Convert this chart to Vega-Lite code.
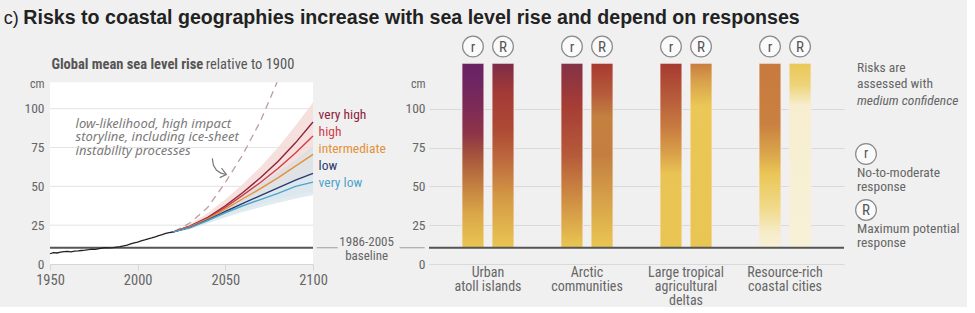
{
  "$schema": "https://vega.github.io/schema/vega-lite/v6.json",
  "background": "#f0f0f0",
  "padding": {"left": 3, "top": 7, "right": 0, "bottom": 0},
  "autosize": {"type": "pad"},
  "config": {
    "view": {"stroke": null},
    "axis": {"labelFont": "Noto Sans Condensed, Roboto Condensed, Liberation Sans Narrow, Roboto, sans-serif"},
    "text": {"font": "Noto Sans Condensed, Roboto Condensed, Liberation Sans Narrow, Roboto, sans-serif"}
  },
  "datasets": {
    "observed": [
      {"year": 1950, "cm": 6.6}, {"year": 1952, "cm": 7.3}, {"year": 1954, "cm": 7.1}, {"year": 1956, "cm": 7.6},
      {"year": 1958, "cm": 8.0}, {"year": 1960, "cm": 8.1}, {"year": 1962, "cm": 7.8}, {"year": 1964, "cm": 8.3},
      {"year": 1966, "cm": 8.4}, {"year": 1968, "cm": 8.7}, {"year": 1970, "cm": 8.9}, {"year": 1972, "cm": 9.2},
      {"year": 1974, "cm": 9.6}, {"year": 1976, "cm": 9.4}, {"year": 1978, "cm": 9.9}, {"year": 1980, "cm": 10.3},
      {"year": 1982, "cm": 10.5}, {"year": 1984, "cm": 10.4}, {"year": 1986, "cm": 10.6}, {"year": 1988, "cm": 10.9},
      {"year": 1990, "cm": 11.2}, {"year": 1992, "cm": 11.7}, {"year": 1994, "cm": 12.2}, {"year": 1996, "cm": 12.9},
      {"year": 1998, "cm": 13.6}, {"year": 2000, "cm": 14.1}, {"year": 2002, "cm": 14.9}, {"year": 2004, "cm": 15.5},
      {"year": 2006, "cm": 16.2}, {"year": 2008, "cm": 16.8}, {"year": 2010, "cm": 17.5}, {"year": 2012, "cm": 18.3},
      {"year": 2014, "cm": 18.9}, {"year": 2016, "cm": 19.7}, {"year": 2018, "cm": 20.2}, {"year": 2020, "cm": 20.6}
    ],
    "projections": [
      {"year": 2020, "very high": 20.5, "high": 20.5, "intermediate": 20.5, "low": 20.5, "very low": 20.5},
      {"year": 2030, "very high": 24.5, "high": 24.3, "intermediate": 24.0, "low": 23.6, "very low": 23.4},
      {"year": 2040, "very high": 30.0, "high": 29.5, "intermediate": 29.0, "low": 28.4, "very low": 28.0},
      {"year": 2050, "very high": 37.5, "high": 36.5, "intermediate": 35.3, "low": 33.8, "very low": 33.0},
      {"year": 2060, "very high": 46.0, "high": 44.3, "intermediate": 42.0, "low": 39.0, "very low": 37.5},
      {"year": 2070, "very high": 55.5, "high": 52.5, "intermediate": 48.5, "low": 44.0, "very low": 41.5},
      {"year": 2080, "very high": 66.0, "high": 61.5, "intermediate": 55.5, "low": 49.0, "very low": 45.5},
      {"year": 2090, "very high": 78.0, "high": 71.5, "intermediate": 63.0, "low": 54.0, "very low": 50.0},
      {"year": 2100, "very high": 91.4, "high": 82.4, "intermediate": 70.6, "low": 58.3, "very low": 52.7}
    ],
    "ranges": [
      {"year": 2020, "band": "very high", "lo": 20.5, "hi": 20.5},
      {"year": 2030, "band": "very high", "lo": 23.0, "hi": 25.8},
      {"year": 2040, "band": "very high", "lo": 27.8, "hi": 32.8},
      {"year": 2050, "band": "very high", "lo": 33.5, "hi": 41.5},
      {"year": 2060, "band": "very high", "lo": 40.0, "hi": 51.5},
      {"year": 2070, "band": "very high", "lo": 47.0, "hi": 62.5},
      {"year": 2080, "band": "very high", "lo": 55.0, "hi": 75.0},
      {"year": 2090, "band": "very high", "lo": 64.0, "hi": 89.0},
      {"year": 2100, "band": "very high", "lo": 74.0, "hi": 104.0},
      {"year": 2020, "band": "low", "lo": 20.5, "hi": 20.5},
      {"year": 2030, "band": "low", "lo": 22.6, "hi": 24.6},
      {"year": 2040, "band": "low", "lo": 26.6, "hi": 30.6},
      {"year": 2050, "band": "low", "lo": 30.8, "hi": 37.2},
      {"year": 2060, "band": "low", "lo": 34.8, "hi": 44.2},
      {"year": 2070, "band": "low", "lo": 38.5, "hi": 51.5},
      {"year": 2080, "band": "low", "lo": 41.8, "hi": 59.0},
      {"year": 2090, "band": "low", "lo": 44.3, "hi": 67.0},
      {"year": 2100, "band": "low", "lo": 46.5, "hi": 75.5},
      {"year": 2020, "band": "very low", "lo": 20.5, "hi": 20.5},
      {"year": 2030, "band": "very low", "lo": 22.5, "hi": 24.3},
      {"year": 2040, "band": "very low", "lo": 26.3, "hi": 29.8},
      {"year": 2050, "band": "very low", "lo": 30.0, "hi": 35.3},
      {"year": 2060, "band": "very low", "lo": 33.5, "hi": 40.0},
      {"year": 2070, "band": "very low", "lo": 36.5, "hi": 44.5},
      {"year": 2080, "band": "very low", "lo": 39.5, "hi": 49.0},
      {"year": 2090, "band": "very low", "lo": 42.0, "hi": 53.5},
      {"year": 2100, "band": "very low", "lo": 44.5, "hi": 58.0}
    ],
    "storyline": [
      {"year": 2021, "cm": 21.0}, {"year": 2030, "cm": 26.5}, {"year": 2040, "cm": 36.5},
      {"year": 2050, "cm": 52.5}, {"year": 2060, "cm": 70.5}, {"year": 2070, "cm": 92.0}, {"year": 2079.5, "cm": 117.0}
    ],
    "arrow": [
      {"part": "shaft", "k": 1, "year": 2042.6, "cm": 68.0},
      {"part": "shaft", "k": 2, "year": 2043.2, "cm": 63.5},
      {"part": "shaft", "k": 3, "year": 2045.0, "cm": 60.3},
      {"part": "shaft", "k": 4, "year": 2047.5, "cm": 58.5},
      {"part": "shaft", "k": 5, "year": 2050.6, "cm": 57.6},
      {"part": "head", "k": 1, "year": 2047.8, "cm": 61.8},
      {"part": "head", "k": 2, "year": 2050.6, "cm": 57.6},
      {"part": "head", "k": 3, "year": 2046.8, "cm": 55.6}
    ],
    "scenarioLabels": [
      {"scenario": "very high", "at": 96},
      {"scenario": "high", "at": 85},
      {"scenario": "intermediate", "at": 74},
      {"scenario": "low", "at": 63},
      {"scenario": "very low", "at": 52}
    ],
    "risk": [
      {"site": "Urban atoll islands", "response": "r", "from": 10.5, "to": 129.2},
      {"site": "Urban atoll islands", "response": "R", "from": 10.5, "to": 129.2},
      {"site": "Arctic communities", "response": "r", "from": 10.5, "to": 129.2},
      {"site": "Arctic communities", "response": "R", "from": 10.5, "to": 129.2},
      {"site": "Large tropical agricultural deltas", "response": "r", "from": 10.5, "to": 129.2},
      {"site": "Large tropical agricultural deltas", "response": "R", "from": 10.5, "to": 129.2},
      {"site": "Resource-rich coastal cities", "response": "r", "from": 10.5, "to": 129.2},
      {"site": "Resource-rich coastal cities", "response": "R", "from": 10.5, "to": 129.2}
    ]
  },
  "spacing": 116,
  "bounds": "flush",
  "resolve": {"scale": {"x": "independent", "y": "independent"}},
  "hconcat": [
    {
      "width": 263,
      "height": 233,
      "layer": [
        {
          "data": {"values": [{}]},
          "mark": {"type": "rect", "fill": "#ffffff"},
          "encoding": {
            "x": {"datum": 1950, "type": "quantitative", "title": null,
                  "scale": {"domain": [1950, 2100], "nice": false, "zero": false},
                  "axis": {"title": null, "values": [1950, 2000, 2050, 2100], "format": "d", "grid": false, "labelFlush": false,
                           "labelFontSize": 14.5, "labelColor": "#666666", "labelPadding": 3,
                           "domainColor": "#d6d6d6", "tickColor": "#d6d6d6", "tickSize": 6}},
            "x2": {"datum": 2100},
            "y": {"datum": 0, "type": "quantitative", "title": null,
                  "scale": {"domain": [0, 150], "nice": false},
                  "axis": {"title": null, "values": [0, 25, 50, 75, 100, 116], "grid": false, "domain": false, "ticks": false,
                           "labelExpr": "datum.value > 110 ? 'cm' : datum.label",
                           "labelFontSize": {"condition": {"test": "datum.value > 110", "value": 12}, "value": 13.5},
                           "labelColor": "#666666", "labelPadding": 6}},
            "y2": {"datum": 117}
          }
        },
        {
          "data": {"values": [{"tick": 25}, {"tick": 50}, {"tick": 75}, {"tick": 100}]},
          "mark": {"type": "rule", "color": "#e3e3e3", "strokeWidth": 1},
          "encoding": {
            "y": {"field": "tick", "type": "quantitative"},
            "x": {"datum": 1950},
            "x2": {"datum": 2100}
          }
        },
        {
          "data": {"name": "ranges"},
          "mark": {"type": "area", "opacity": 0.85},
          "encoding": {
            "x": {"field": "year", "type": "quantitative"},
            "y": {"field": "lo", "type": "quantitative"},
            "y2": {"field": "hi"},
            "fill": {"field": "band", "type": "nominal", "legend": null,
                     "scale": {"domain": ["very high", "low", "very low"], "range": ["#f3dad8", "#dadee2", "#dbe9ef"]}}
          }
        },
        {
          "data": {"values": [{}]},
          "mark": {"type": "rule", "color": "#555555", "strokeWidth": 2},
          "encoding": {"y": {"datum": 10.5}, "x": {"datum": 1950}, "x2": {"datum": 2100}}
        },
        {
          "data": {"name": "storyline"},
          "mark": {"type": "line", "color": "#b99ea5", "strokeWidth": 1.3, "strokeDash": [7, 5]},
          "encoding": {
            "x": {"field": "year", "type": "quantitative"},
            "y": {"field": "cm", "type": "quantitative"}
          }
        },
        {
          "data": {"name": "projections"},
          "transform": [{"fold": ["very high", "high", "intermediate", "low", "very low"], "as": ["scenario", "cm"]}],
          "mark": {"type": "line", "strokeWidth": 1.4},
          "encoding": {
            "x": {"field": "year", "type": "quantitative"},
            "y": {"field": "cm", "type": "quantitative"},
            "color": {"field": "scenario", "type": "nominal", "legend": null,
                      "scale": {"domain": ["very high", "high", "intermediate", "low", "very low"],
                                "range": ["#8e2239", "#d23c48", "#e4913a", "#2b3a6e", "#4ea3cb"]}}
          }
        },
        {
          "data": {"name": "observed"},
          "mark": {"type": "line", "color": "#222222", "strokeWidth": 1.3},
          "encoding": {
            "x": {"field": "year", "type": "quantitative"},
            "y": {"field": "cm", "type": "quantitative"}
          }
        },
        {
          "data": {"name": "scenarioLabels"},
          "mark": {"type": "text", "align": "left", "baseline": "middle", "fontSize": 13.5},
          "encoding": {
            "x": {"datum": 2103.2},
            "y": {"field": "at", "type": "quantitative"},
            "text": {"field": "scenario"},
            "color": {"field": "scenario", "type": "nominal", "legend": null}
          }
        },
        {
          "data": {"values": [{}]},
          "mark": {"type": "text", "align": "left", "baseline": "top", "fontSize": 13, "lineHeight": 13.7,
                   "font": "Noto Sans, DejaVu Sans, sans-serif", "fontStyle": "italic", "color": "#7a7a7a"},
          "encoding": {
            "x": {"datum": 1964.6},
            "y": {"datum": 94.2},
            "text": {"value": ["low-likelihood, high impact", "storyline, including ice-sheet", "instability processes"]}
          }
        },
        {
          "data": {"name": "arrow"},
          "mark": {"type": "line", "color": "#777777", "strokeWidth": 1.2},
          "encoding": {
            "x": {"field": "year", "type": "quantitative"},
            "y": {"field": "cm", "type": "quantitative"},
            "detail": {"field": "part"},
            "order": {"field": "k"}
          }
        },
        {
          "data": {"values": [{}]},
          "mark": {"type": "rule", "color": "#b0b0b0", "strokeWidth": 1.3},
          "encoding": {"y": {"datum": 10.5}, "x": {"datum": 2102.1}, "x2": {"datum": 2114.1}}
        },
        {
          "data": {"values": [{}]},
          "mark": {"type": "rule", "color": "#b0b0b0", "strokeWidth": 1.3},
          "encoding": {"y": {"datum": 10.5}, "x": {"datum": 2149.4}, "x2": {"datum": 2163.7}}
        },
        {
          "data": {"values": [{}]},
          "mark": {"type": "text", "align": "center", "baseline": "top", "fontSize": 13, "lineHeight": 14, "color": "#666666"},
          "encoding": {
            "x": {"datum": 2130.6},
            "y": {"datum": 18.3},
            "text": {"value": ["1986-2005", "baseline"]}
          }
        },
        {
          "data": {"values": [{}]},
          "mark": {"type": "text", "align": "left", "baseline": "alphabetic", "fontSize": 14.5, "fontWeight": "bold", "color": "#555555"},
          "encoding": {
            "x": {"datum": 1950.8},
            "y": {"datum": 125.5},
            "text": {"value": "Global mean sea level rise"}
          }
        },
        {
          "data": {"values": [{}]},
          "mark": {"type": "text", "align": "left", "baseline": "alphabetic", "fontSize": 14.5, "color": "#555555"},
          "encoding": {
            "x": {"datum": 2038.8},
            "y": {"datum": 125.5},
            "text": {"value": "relative to 1900"}
          }
        },
        {
          "data": {"values": [{}]},
          "mark": {"type": "text", "align": "left", "baseline": "alphabetic", "fontSize": 18,
                   "font": "Liberation Sans, Arial, sans-serif", "color": "#222222"},
          "encoding": {
            "x": {"datum": 1923.6},
            "y": {"datum": 154.7},
            "text": {"value": "c)"}
          }
        },
        {
          "data": {"values": [{}]},
          "mark": {"type": "text", "align": "left", "baseline": "alphabetic", "fontSize": 19.6, "fontWeight": "bold",
                   "font": "Liberation Sans, Arial, sans-serif", "color": "#222222"},
          "encoding": {
            "x": {"datum": 1934.8},
            "y": {"datum": 154.7},
            "text": {"value": "Risks to coastal geographies increase with sea level rise and depend on responses"}
          }
        }
      ]
    },
    {
      "spacing": 13,
      "bounds": "flush",
      "resolve": {"scale": {"x": "independent", "y": "independent"}},
      "hconcat": [
        {
          "width": 415,
          "height": 233,
          "layer": [
            {
              "data": {"name": "risk"},
              "mark": {"type": "bar", "stroke": "#f7ecea", "strokeWidth": 0.8},
              "encoding": {
                "x": {"field": "site", "type": "nominal", "title": null,
                      "scale": {"domain": ["Urban atoll islands", "Arctic communities", "Large tropical agricultural deltas", "Resource-rich coastal cities"],
                                "paddingInner": 0.4747, "paddingOuter": 0.333},
                      "axis": {"title": null, "domain": false, "ticks": false, "labelAngle": 0,
                               "labelExpr": "datum.label == 'Urban atoll islands' ? ['Urban', 'atoll islands'] : datum.label == 'Arctic communities' ? ['Arctic', 'communities'] : datum.label == 'Large tropical agricultural deltas' ? ['Large tropical', 'agricultural', 'deltas'] : ['Resource-rich', 'coastal cities']",
                               "labelFontSize": 14, "labelLineHeight": 14, "labelColor": "#666666", "labelPadding": 1}},
                "xOffset": {"field": "response", "type": "nominal",
                            "scale": {"domain": ["r", "R"], "paddingInner": 0.27, "paddingOuter": 0}},
                "y": {"field": "from", "type": "quantitative", "title": null,
                      "scale": {"domain": [0, 150], "nice": false},
                      "axis": {"title": null, "values": [0, 25, 50, 75, 100, 116], "domain": false, "ticks": false,
                               "grid": true, "gridColor": "#d9d9d9",
                               "gridOpacity": {"condition": {"test": "datum.value > 110", "value": 0}, "value": 1},
                               "labelExpr": "datum.value > 110 ? 'cm' : datum.label",
                               "labelFontSize": {"condition": {"test": "datum.value > 110", "value": 12}, "value": 13.5},
                               "labelColor": "#666666", "labelPadding": 4}},
                "y2": {"field": "to"},
                "fill": {
                  "condition": [
                    {"test": "datum.site === 'Urban atoll islands' && datum.response === 'r'",
                     "value": {"gradient": "linear", "x1": 0, "y1": 1, "x2": 0, "y2": 0,
                               "stops": [{"offset": 0, "color": "#e9c653"}, {"offset": 0.19, "color": "#d9a548"},
                                         {"offset": 0.35, "color": "#c07c3f"}, {"offset": 0.5, "color": "#a6543d"},
                                         {"offset": 0.62, "color": "#8e3448"}, {"offset": 0.77, "color": "#7c2b57"},
                                         {"offset": 0.9, "color": "#6e2563"}, {"offset": 1, "color": "#6b2262"}]}},
                    {"test": "datum.site === 'Urban atoll islands' && datum.response === 'R'",
                     "value": {"gradient": "linear", "x1": 0, "y1": 1, "x2": 0, "y2": 0,
                               "stops": [{"offset": 0, "color": "#e9c653"}, {"offset": 0.28, "color": "#d39844"},
                                         {"offset": 0.46, "color": "#bf6d3e"}, {"offset": 0.64, "color": "#ad4a35"},
                                         {"offset": 0.84, "color": "#a33a36"}, {"offset": 1, "color": "#7e2c48"}]}},
                    {"test": "datum.site === 'Arctic communities' && datum.response === 'r'",
                     "value": {"gradient": "linear", "x1": 0, "y1": 1, "x2": 0, "y2": 0,
                               "stops": [{"offset": 0, "color": "#e9c653"}, {"offset": 0.28, "color": "#cd8a42"},
                                         {"offset": 0.5, "color": "#b65a3a"}, {"offset": 0.77, "color": "#a63d35"},
                                         {"offset": 0.92, "color": "#8f3540"}, {"offset": 1, "color": "#843247"}]}},
                    {"test": "datum.site === 'Arctic communities' && datum.response === 'R'",
                     "value": {"gradient": "linear", "x1": 0, "y1": 1, "x2": 0, "y2": 0,
                               "stops": [{"offset": 0, "color": "#e9c653"}, {"offset": 0.28, "color": "#d49e48"},
                                         {"offset": 0.5, "color": "#c47f40"}, {"offset": 0.71, "color": "#c4803f"},
                                         {"offset": 0.84, "color": "#b45a3b"}, {"offset": 1, "color": "#a8392f"}]}},
                    {"test": "datum.site === 'Large tropical agricultural deltas' && datum.response === 'r'",
                     "value": {"gradient": "linear", "x1": 0, "y1": 1, "x2": 0, "y2": 0,
                               "stops": [{"offset": 0, "color": "#e9c653"}, {"offset": 0.4, "color": "#e9c454"},
                                         {"offset": 0.5, "color": "#dba34a"}, {"offset": 0.65, "color": "#c87c40"},
                                         {"offset": 0.82, "color": "#b65a3a"}, {"offset": 1, "color": "#a63a30"}]}},
                    {"test": "datum.site === 'Large tropical agricultural deltas' && datum.response === 'R'",
                     "value": {"gradient": "linear", "x1": 0, "y1": 1, "x2": 0, "y2": 0,
                               "stops": [{"offset": 0, "color": "#e9c653"}, {"offset": 0.77, "color": "#eac756"},
                                         {"offset": 0.9, "color": "#d8a24c"}, {"offset": 1, "color": "#c87d3e"}]}},
                    {"test": "datum.site === 'Resource-rich coastal cities' && datum.response === 'r'",
                     "value": {"gradient": "linear", "x1": 0, "y1": 1, "x2": 0, "y2": 0,
                               "stops": [{"offset": 0, "color": "#f8f0d6"}, {"offset": 0.08, "color": "#f6ecc9"},
                                         {"offset": 0.22, "color": "#f0d988"}, {"offset": 0.4, "color": "#eac657"},
                                         {"offset": 0.5, "color": "#dca84c"}, {"offset": 0.67, "color": "#c98040"},
                                         {"offset": 1, "color": "#c87a3e"}]}},
                    {"test": "datum.site === 'Resource-rich coastal cities' && datum.response === 'R'",
                     "value": {"gradient": "linear", "x1": 0, "y1": 1, "x2": 0, "y2": 0,
                               "stops": [{"offset": 0, "color": "#f8f1d8"}, {"offset": 0.77, "color": "#f7eed0"},
                                         {"offset": 0.88, "color": "#edd47a"}, {"offset": 1, "color": "#eac757"}]}}
                  ],
                  "value": "#e9c653"
                }
              }
            },
            {
              "data": {"name": "risk"},
              "mark": {"type": "point", "shape": "circle", "size": 430, "filled": true, "fill": "#fafafa",
                       "stroke": "#8a8a8a", "strokeWidth": 1.2, "opacity": 1},
              "encoding": {
                "x": {"field": "site", "type": "nominal"},
                "xOffset": {"field": "response", "type": "nominal"},
                "y": {"datum": 140}
              }
            },
            {
              "data": {"name": "risk"},
              "mark": {"type": "text", "fontSize": 15, "color": "#555555", "baseline": "middle"},
              "encoding": {
                "x": {"field": "site", "type": "nominal"},
                "xOffset": {"field": "response", "type": "nominal"},
                "y": {"datum": 140},
                "text": {"field": "response"}
              }
            },
            {
              "data": {"values": [{}]},
              "mark": {"type": "rule", "color": "#555555", "strokeWidth": 2},
              "encoding": {"y": {"datum": 10.5}}
            }
          ]
        },
        {
          "width": 110,
          "height": 233,
          "layer": [
            {
              "data": {"values": [{}]},
              "mark": {"type": "text", "align": "left", "baseline": "top", "fontSize": 13.5, "lineHeight": 16, "color": "#666666"},
              "encoding": {
                "x": {"datum": 0, "type": "quantitative", "scale": {"domain": [0, 110], "nice": false, "zero": false}, "axis": null},
                "y": {"datum": 130.7, "type": "quantitative", "scale": {"domain": [0, 150], "nice": false}, "axis": null},
                "text": {"value": ["Risks are", "assessed with"]}
              }
            },
            {
              "data": {"values": [{}]},
              "mark": {"type": "text", "align": "left", "baseline": "top", "fontSize": 13.5, "fontStyle": "italic", "color": "#666666"},
              "encoding": {"x": {"datum": 0}, "y": {"datum": 109.7}, "text": {"value": "medium confidence"}}
            },
            {
              "data": {"values": [{"response": "r"}]},
              "mark": {"type": "point", "shape": "circle", "size": 430, "filled": true, "fill": "#fafafa",
                       "stroke": "#8a8a8a", "strokeWidth": 1.2, "opacity": 1},
              "encoding": {"x": {"datum": 9}, "y": {"datum": 70.8}}
            },
            {
              "data": {"values": [{"response": "r"}]},
              "mark": {"type": "text", "fontSize": 14, "color": "#555555", "baseline": "middle"},
              "encoding": {"x": {"datum": 9}, "y": {"datum": 70.8}, "text": {"field": "response"}}
            },
            {
              "data": {"values": [{"response": "R"}]},
              "mark": {"type": "point", "shape": "circle", "size": 430, "filled": true, "fill": "#fafafa",
                       "stroke": "#8a8a8a", "strokeWidth": 1.2, "opacity": 1},
              "encoding": {"x": {"datum": 9}, "y": {"datum": 34.8}}
            },
            {
              "data": {"values": [{"response": "R"}]},
              "mark": {"type": "text", "fontSize": 15, "color": "#555555", "baseline": "middle"},
              "encoding": {"x": {"datum": 9}, "y": {"datum": 34.8}, "text": {"field": "response"}}
            },
            {
              "data": {"values": [{}]},
              "mark": {"type": "text", "align": "left", "baseline": "top", "fontSize": 13.5, "lineHeight": 14, "color": "#666666"},
              "encoding": {"x": {"datum": 0}, "y": {"datum": 63.3}, "text": {"value": ["No-to-moderate", "response"]}}
            },
            {
              "data": {"values": [{}]},
              "mark": {"type": "text", "align": "left", "baseline": "top", "fontSize": 13.5, "lineHeight": 14, "color": "#666666"},
              "encoding": {"x": {"datum": 0}, "y": {"datum": 27.2}, "text": {"value": ["Maximum potential", "response"]}}
            }
          ]
        }
      ]
    }
  ]
}
